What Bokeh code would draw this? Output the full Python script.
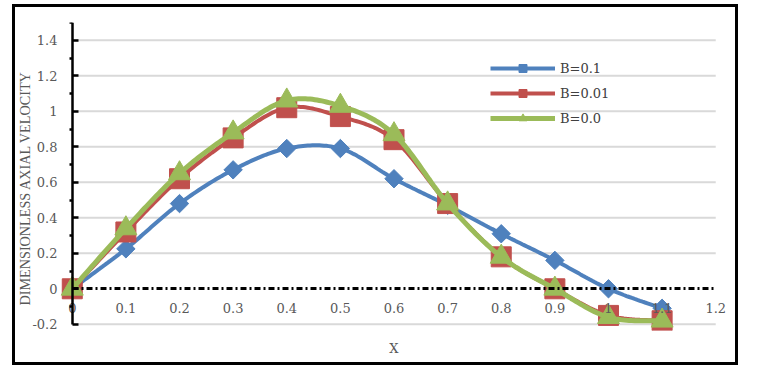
import numpy as np
from bokeh.plotting import figure
from bokeh.models import FixedTicker, Legend, LegendItem, LinearAxis, Title
from bokeh.embed import file_html
from bokeh.resources import INLINE

# ---- data ----
x_vals = [0.0, 0.1, 0.2, 0.3, 0.4, 0.5, 0.6, 0.7, 0.8, 0.9, 1.0, 1.1]
b_01 = [0.0, 0.225, 0.48, 0.67, 0.79, 0.79, 0.62, 0.47, 0.31, 0.16, 0.0, -0.11]
b_001 = [0.0, 0.32, 0.62, 0.85, 1.02, 0.97, 0.84, 0.48, 0.18, 0.0, -0.15, -0.18]
b_00 = [0.0, 0.34, 0.65, 0.88, 1.06, 1.03, 0.87, 0.48, 0.18, 0.0, -0.16, -0.18]
series_names = ["B=0.1", "B=0.01", "B=0.0"]

x_ticks = [0.0, 0.1, 0.2, 0.3, 0.4, 0.5, 0.6, 0.7, 0.8, 0.9, 1.0, 1.1, 1.2]
x_tick_labels = ["0", "0.1", "0.2", "0.3", "0.4", "0.5", "0.6", "0.7", "0.8", "0.9", "1", "1.1", "1.2"]
y_ticks = [-0.2, 0.0, 0.2, 0.4, 0.6, 0.8, 1.0, 1.2, 1.4]
y_tick_labels = ["-0.2", "0", "0.2", "0.4", "0.6", "0.8", "1", "1.2", "1.4"]
y_minor = [-0.1, 0.1, 0.3, 0.5, 0.7, 0.9, 1.1, 1.3, 1.5]
y_axis_max = 1.5
grid_vals = [-0.2, 0.2, 0.4, 0.6, 0.8, 1.0, 1.2, 1.4]

BLUE = "#4F81BD"
RED = "#C0504D"
GREEN = "#9BBB59"
TXT = "#595959"
SERIF = "DejaVu Serif"


def smooth(xs, ys, n=24):
    """Excel-like smoothed path (Catmull-Rom Bezier) through the data points."""
    xs = np.asarray(xs, float)
    ys = np.asarray(ys, float)
    px = np.concatenate([[xs[0]], xs, [xs[-1]]])
    py = np.concatenate([[ys[0]], ys, [ys[-1]]])
    outx, outy = [], []
    t = np.linspace(0, 1, n)
    for i in range(1, len(px) - 2):
        p0 = np.array([px[i], py[i]])
        p3 = np.array([px[i + 1], py[i + 1]])
        c1 = p0 + (np.array([px[i + 1], py[i + 1]]) - np.array([px[i - 1], py[i - 1]])) / 6
        c2 = p3 - (np.array([px[i + 2], py[i + 2]]) - np.array([px[i], py[i]])) / 6
        pts = ((1 - t) ** 3)[:, None] * p0 + (3 * (1 - t) ** 2 * t)[:, None] * c1 \
            + (3 * (1 - t) * t ** 2)[:, None] * c2 + (t ** 3)[:, None] * p3
        outx.extend(pts[:, 0].tolist())
        outy.extend(pts[:, 1].tolist())
    return outx, outy


p = figure(width=726, height=361, output_backend="svg", toolbar_location=None,
           x_range=(-0.035, 1.235), y_range=(-0.235, 1.5),
           min_border_left=38, min_border_right=7, min_border_top=15, min_border_bottom=38)
p.styles = {"border": "3px solid black", "margin-left": "12px", "margin-top": "4px"}
p.outline_line_color = None
p.background_fill_color = "white"
p.border_fill_color = "white"
p.xgrid.visible = False
p.ygrid.visible = False

# gridlines
p.segment(x0=[x_ticks[0]] * len(grid_vals), x1=[x_ticks[-1]] * len(grid_vals),
          y0=grid_vals, y1=grid_vals, line_color="#D9D9D9", line_width=2, level="underlay")

# y tick labels (regular left axis, no line)
yl = p.yaxis[0]
yl.ticker = FixedTicker(ticks=y_ticks, minor_ticks=[])
yl.major_label_overrides = {t: l for t, l in zip(y_ticks, y_tick_labels)}
yl.axis_line_color = None
yl.major_tick_in = 0
yl.major_tick_out = 0
yl.minor_tick_in = 0
yl.minor_tick_out = 0
yl.major_label_standoff = -4
yl.major_label_text_font = SERIF
yl.major_label_text_font_size = "13px"
yl.major_label_text_color = TXT

# y axis line at x = 0
ya = LinearAxis(fixed_location=0, bounds=(y_ticks[0], y_axis_max),
                ticker=FixedTicker(ticks=y_ticks, minor_ticks=y_minor),
                axis_line_color="black", axis_line_width=2.5,
                major_tick_in=6, major_tick_out=0, major_tick_line_width=2.5,
                minor_tick_in=0, minor_tick_out=3, minor_tick_line_width=2.5,
                major_label_text_alpha=0)
p.add_layout(ya, "left")

# y axis title
p.add_layout(Title(text="DIMENSIONLESS AXIAL VELOCITY", align="left", offset=25, standoff=-7,
                   text_font="Liberation Serif", text_font_size="14.2px",
                   text_font_style="normal", text_color=TXT), "left")

# x axis title (regular bottom axis)
xt = p.xaxis[0]
xt.ticker = FixedTicker(ticks=[], minor_ticks=[])
xt.bounds = (x_ticks[0], x_ticks[-1])
xt.axis_line_color = None
xt.major_tick_in = 0
xt.major_tick_out = 0
xt.minor_tick_in = 0
xt.minor_tick_out = 0
xt.axis_label = "X"
xt.axis_label_standoff = 10
xt.axis_label_text_font = SERIF
xt.axis_label_text_font_size = "13px"
xt.axis_label_text_font_style = "normal"
xt.axis_label_text_color = TXT

# x axis (dashed line through y = 0) with its tick labels
xa = LinearAxis(fixed_location=0, bounds=(x_ticks[0], x_ticks[-1]),
                ticker=FixedTicker(ticks=x_ticks, minor_ticks=[]),
                major_label_overrides={t: l for t, l in zip(x_ticks, x_tick_labels)},
                axis_line_color="black", axis_line_width=3, axis_line_dash="6 3 2 3",
                major_tick_in=0, major_tick_out=0, minor_tick_in=0, minor_tick_out=0,
                major_label_standoff=14, major_label_text_font=SERIF,
                major_label_text_font_size="13px", major_label_text_color=TXT)
p.add_layout(xa, "below")

items = []
specs = [(b_01, BLUE, "square", 13, 45, 4),
         (b_001, RED, "square", 20, 0, 4),
         (b_00, GREEN, "triangle", 22, 0, 5)]
for (ys, col, mk, sz, ang, lw), name in zip(specs, series_names):
    sx, sy = smooth(x_vals, ys)
    r1 = p.line(sx, sy, line_color=col, line_width=lw)
    r2 = p.scatter(x_vals, ys, marker=mk, size=sz, angle=np.deg2rad(ang),
                   fill_color=col, line_color=col)
    items.append(LegendItem(label=name, renderers=[r1, r2]))

legend = Legend(items=items, location=(437, 202), orientation="vertical",
                glyph_width=65, glyph_height=20, label_height=20, spacing=5,
                label_standoff=5, padding=0, margin=0,
                border_line_color=None, background_fill_alpha=0,
                label_text_font=SERIF, label_text_font_size="13px",
                label_text_color="#404040")
p.add_layout(legend, "center")

open("out.html", "w").write(file_html(p, INLINE))
